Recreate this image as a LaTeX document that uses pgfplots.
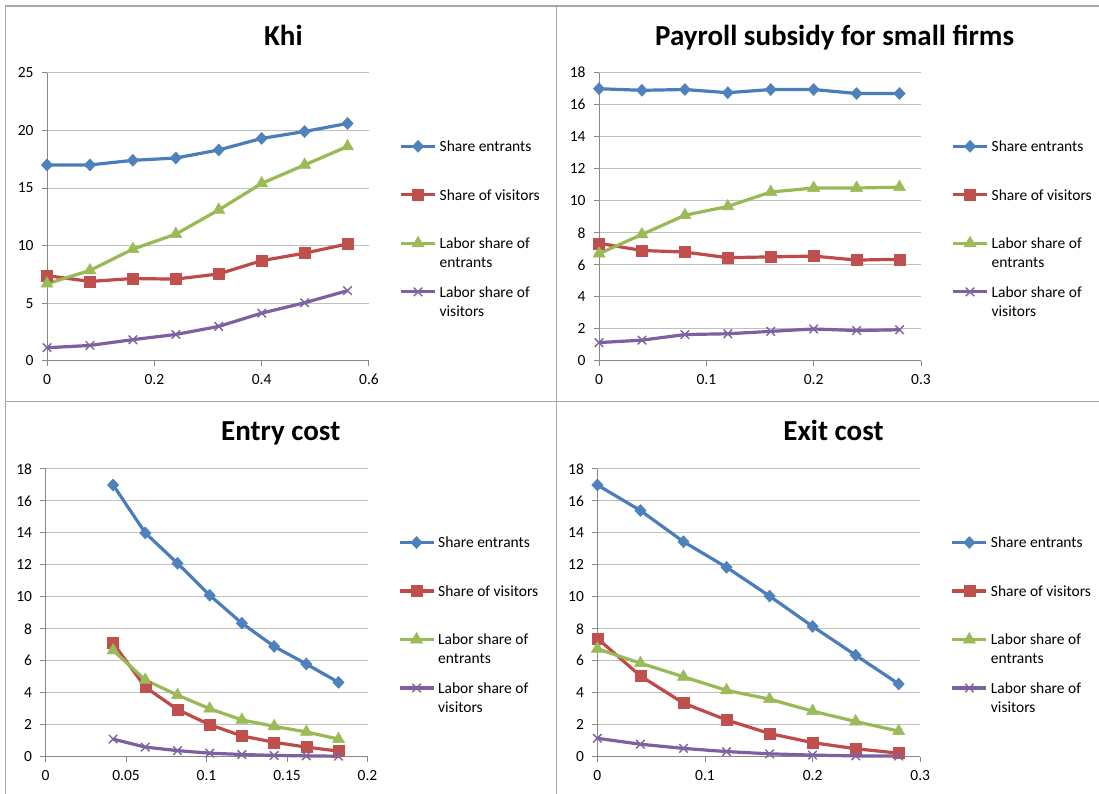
\documentclass[border=0pt]{standalone}
\usepackage{fontspec}
\setmainfont{Carlito}
\usepackage{pgfplots}
\pgfplotsset{compat=1.18}

\definecolor{cblue}{HTML}{4A7EBB}
\definecolor{cbluem}{HTML}{4F81BD}
\definecolor{cred}{HTML}{BE4B48}
\definecolor{credm}{HTML}{C0504D}
\definecolor{cgreen}{HTML}{98B954}
\definecolor{cgreenm}{HTML}{9BBB59}
\definecolor{cpurp}{HTML}{7D60A0}
\definecolor{cpurpm}{HTML}{8064A2}
\definecolor{gridc}{HTML}{BFBFBF}
\definecolor{axc}{HTML}{878787}
\definecolor{framec}{HTML}{A6A6A6}

\newcommand{\lfont}{\fontsize{15.5bp}{19bp}\selectfont}
\newcommand{\ent}[2]{{\lfont\begin{tabular}[t]{@{}l@{}}#1\\#2\end{tabular}}}

\pgfplotsset{
  legend image code/.code={\draw[mark repeat=2,mark phase=2,#1] plot coordinates {(0bp,11bp) (17bp,11bp) (34bp,11bp)};},
  panel/.style={
    scale only axis,
    axis lines*=left,
    axis line style={axc, line width=1bp},
    ymajorgrids,
    major grid style={gridc, line width=1bp},
    tick align=outside,
    major tick length=5bp,
    tick style={axc, line width=1bp},
    xmin=0, ymin=0,
    tick label style={font=\lfont, black, /pgf/number format/assume math mode=true},
    xticklabel style={/pgf/number format/fixed, /pgf/number format/precision=2, yshift=-5bp},
    yticklabel style={xshift=-5bp},
    scaled x ticks=false,
    clip=false,
    legend style={draw=none, fill=none, at={(1.094,0.773)}, anchor=north west,
      font=\lfont, inner sep=0pt,
      nodes={inner sep=0pt, text height=13.3bp, text depth=24.7bp},
      /tikz/row sep=10.5bp, /tikz/column sep=3bp},
    legend cell align=left,
  },
  s1/.style={cblue, line width=3.2bp, mark=diamond*, mark size=6bp,
    mark options={fill=cbluem, draw=cbluem, line width=0.5bp, xscale=1.25}},
  s2/.style={cred, line width=3.2bp, mark=square*, mark size=5.5bp,
    mark options={fill=credm, draw=credm, line width=0.5bp}},
  s3/.style={cgreen, line width=3.2bp, mark=triangle*, mark size=7bp,
    mark options={fill=cgreenm, draw=cgreenm, line width=0.5bp}},
  s4/.style={cpurp, line width=3.2bp, mark=x, mark size=6bp,
    mark options={draw=cpurpm, line width=1.4bp}},
}

\begin{document}
\begin{tikzpicture}
\useasboundingbox (0,0) rectangle (1099bp,794bp);
\fill[white] (0,0) rectangle (1099bp,794bp);
\draw[framec, line width=1.5bp] (5.5bp,0) -- (5.5bp,788bp) -- (1099bp,788bp);
\draw[framec, line width=1.5bp] (556.7bp,0) -- (556.7bp,788bp);
\draw[framec, line width=1.5bp] (5.5bp,392.3bp) -- (1099bp,392.3bp);

% Titles
\node[anchor=base, font=\fontsize{29bp}{31bp}\selectfont\bfseries] at (283.4bp,748.5bp) {Khi};
\node[anchor=base, font=\fontsize{29bp}{31bp}\selectfont\bfseries] at (834.6bp,748.5bp) {Payroll subsidy for small firms};
\node[anchor=base, font=\fontsize{29bp}{31bp}\selectfont\bfseries] at (280.7bp,353.3bp) {Entry cost};
\node[anchor=base, font=\fontsize{29bp}{31bp}\selectfont\bfseries] at (833.5bp,353.3bp) {Exit cost};

% Panel 1: Khi
\begin{axis}[panel, at={(47bp,433bp)}, anchor=south west, width=322bp, height=288.3bp,
  xmax=0.6, ymax=25, xtick={0,0.2,0.4,0.6}, ytick={0,5,10,15,20,25}]
\addplot[s1] coordinates {(0,17.0) (0.08,17.0) (0.16,17.4) (0.24,17.6) (0.32,18.3) (0.40,19.3) (0.48,19.9) (0.56,20.6)};
\addlegendentry{\ent{Share entrants}{}}
\addplot[s2] coordinates {(0,7.4) (0.08,6.9) (0.16,7.15) (0.24,7.1) (0.32,7.55) (0.40,8.7) (0.48,9.35) (0.56,10.15)};
\addlegendentry{\ent{Share of visitors}{}}
\addplot[s3] coordinates {(0,6.7) (0.08,7.85) (0.16,9.7) (0.24,11.0) (0.32,13.1) (0.40,15.4) (0.48,17.0) (0.56,18.6)};
\addlegendentry{\ent{Labor share of}{entrants}}
\addplot[s4] coordinates {(0,1.15) (0.08,1.35) (0.16,1.85) (0.24,2.3) (0.32,3.0) (0.40,4.15) (0.48,5.05) (0.56,6.1)};
\addlegendentry{\ent{Labor share of}{visitors}}
\end{axis}

% Panel 2: Payroll subsidy
\begin{axis}[panel, at={(599bp,433bp)}, anchor=south west, width=322bp, height=288.3bp,
  xmax=0.3, ymax=18, xtick={0,0.1,0.2,0.3}, ytick={0,2,4,6,8,10,12,14,16,18}]
\addplot[s1] coordinates {(0,17.0) (0.04,16.9) (0.08,16.95) (0.12,16.75) (0.16,16.95) (0.20,16.95) (0.24,16.7) (0.28,16.7)};
\addlegendentry{\ent{Share entrants}{}}
\addplot[s2] coordinates {(0,7.35) (0.04,6.9) (0.08,6.8) (0.12,6.45) (0.16,6.5) (0.20,6.55) (0.24,6.3) (0.28,6.35)};
\addlegendentry{\ent{Share of visitors}{}}
\addplot[s3] coordinates {(0,6.7) (0.04,7.9) (0.08,9.1) (0.12,9.65) (0.16,10.55) (0.20,10.8) (0.24,10.8) (0.28,10.85)};
\addlegendentry{\ent{Labor share of}{entrants}}
\addplot[s4] coordinates {(0,1.15) (0.04,1.3) (0.08,1.65) (0.12,1.7) (0.16,1.85) (0.20,2.0) (0.24,1.9) (0.28,1.95)};
\addlegendentry{\ent{Labor share of}{visitors}}
\end{axis}

% Panel 3: Entry cost
\begin{axis}[panel, at={(45.5bp,37.3bp)}, anchor=south west, width=322bp, height=287.7bp,
  xmax=0.2, ymax=18, xtick={0,0.05,0.1,0.15,0.2}, ytick={0,2,4,6,8,10,12,14,16,18}]
\addplot[s1] coordinates {(0.042,17.0) (0.062,14.0) (0.082,12.1) (0.102,10.1) (0.122,8.35) (0.142,6.9) (0.162,5.8) (0.182,4.65)};
\addlegendentry{\ent{Share entrants}{}}
\addplot[s2] coordinates {(0.042,7.1) (0.062,4.35) (0.082,2.95) (0.102,2.0) (0.122,1.3) (0.142,0.9) (0.162,0.6) (0.182,0.35)};
\addlegendentry{\ent{Share of visitors}{}}
\addplot[s3] coordinates {(0.042,6.65) (0.062,4.8) (0.082,3.85) (0.102,3.0) (0.122,2.3) (0.142,1.9) (0.162,1.55) (0.182,1.1)};
\addlegendentry{\ent{Labor share of}{entrants}}
\addplot[s4] coordinates {(0.042,1.1) (0.062,0.6) (0.082,0.38) (0.102,0.22) (0.122,0.14) (0.142,0.08) (0.162,0.05) (0.182,0.03)};
\addlegendentry{\ent{Labor share of}{visitors}}
\end{axis}

% Panel 4: Exit cost
\begin{axis}[panel, at={(597.4bp,37.3bp)}, anchor=south west, width=322.8bp, height=287.7bp,
  xmax=0.3, ymax=18, xtick={0,0.1,0.2,0.3}, ytick={0,2,4,6,8,10,12,14,16,18}]
\addplot[s1] coordinates {(0,17.0) (0.04,15.4) (0.08,13.45) (0.12,11.85) (0.16,10.05) (0.20,8.15) (0.24,6.35) (0.28,4.55)};
\addlegendentry{\ent{Share entrants}{}}
\addplot[s2] coordinates {(0,7.4) (0.04,5.05) (0.08,3.35) (0.12,2.3) (0.16,1.45) (0.20,0.88) (0.24,0.5) (0.28,0.22)};
\addlegendentry{\ent{Share of visitors}{}}
\addplot[s3] coordinates {(0,6.75) (0.04,5.85) (0.08,5.0) (0.12,4.15) (0.16,3.6) (0.20,2.85) (0.24,2.2) (0.28,1.6)};
\addlegendentry{\ent{Labor share of}{entrants}}
\addplot[s4] coordinates {(0,1.15) (0.04,0.78) (0.08,0.52) (0.12,0.32) (0.16,0.18) (0.20,0.1) (0.24,0.05) (0.28,0.04)};
\addlegendentry{\ent{Labor share of}{visitors}}
\end{axis}
\end{tikzpicture}
\end{document}
